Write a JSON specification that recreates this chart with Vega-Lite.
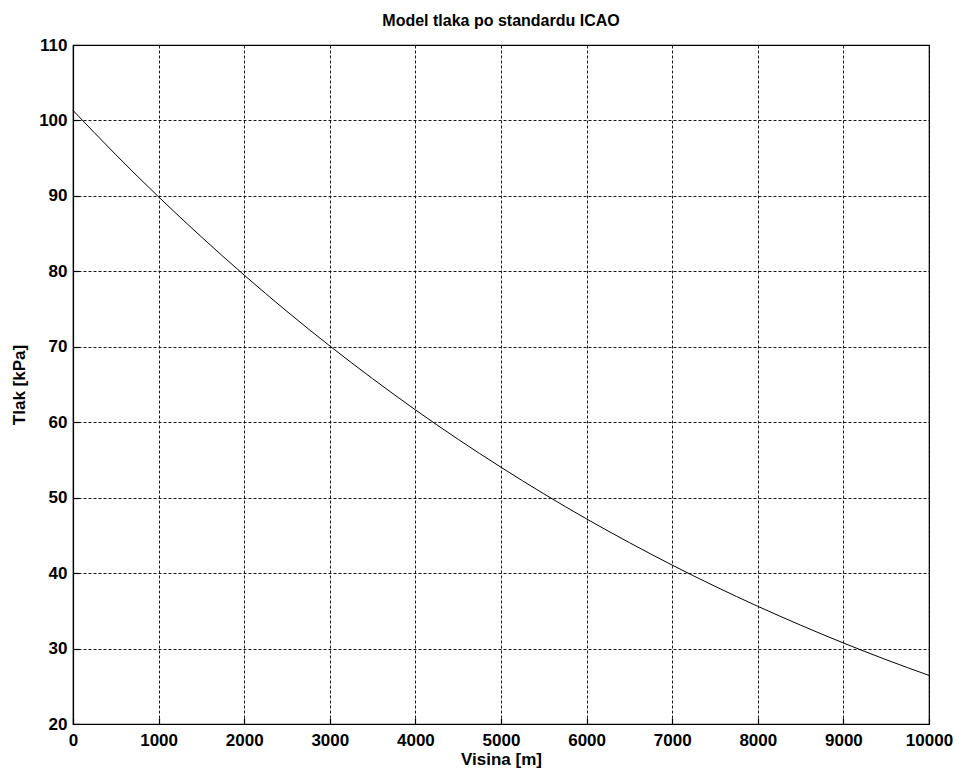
{
  "$schema": "https://vega.github.io/schema/vega-lite/v6.json",
  "autosize": "none",
  "width": 856,
  "height": 679,
  "padding": {"left": 73, "top": 45, "right": 30, "bottom": 52},
  "background": "white",
  "title": {
    "text": "Model tlaka po standardu ICAO",
    "font": "Liberation Sans",
    "fontSize": 16,
    "fontWeight": "bold",
    "color": "black",
    "offset": 7
  },
  "config": {
    "view": {"stroke": "black", "strokeWidth": 1.2},
    "axis": {
      "labelFont": "Liberation Sans",
      "labelFontSize": 17,
      "labelFontWeight": "bold",
      "labelColor": "black",
      "titleFont": "Liberation Sans",
      "titleFontSize": 17,
      "titleFontWeight": "bold",
      "titleColor": "black",
      "domainColor": "black",
      "domainWidth": 1.2,
      "tickColor": "black",
      "tickSize": -6,
      "tickWidth": 1.2,
      "grid": true,
      "gridColor": "black",
      "gridOpacity": 0.9,
      "gridDash": [3, 2],
      "gridWidth": 1
    }
  },
  "data": {
    "values": [
      {"visina": 0, "tlak": 101.33},
      {"visina": 500, "tlak": 95.46},
      {"visina": 1000, "tlak": 89.87},
      {"visina": 1500, "tlak": 84.56},
      {"visina": 2000, "tlak": 79.5},
      {"visina": 2500, "tlak": 74.68},
      {"visina": 3000, "tlak": 70.11},
      {"visina": 3500, "tlak": 65.77},
      {"visina": 4000, "tlak": 61.64},
      {"visina": 4500, "tlak": 57.73},
      {"visina": 5000, "tlak": 54.03},
      {"visina": 5500, "tlak": 50.51},
      {"visina": 6000, "tlak": 47.18},
      {"visina": 6500, "tlak": 44.04},
      {"visina": 7000, "tlak": 41.06},
      {"visina": 7500, "tlak": 38.25},
      {"visina": 8000, "tlak": 35.6},
      {"visina": 8500, "tlak": 33.1},
      {"visina": 9000, "tlak": 30.74},
      {"visina": 9500, "tlak": 28.52},
      {"visina": 10000, "tlak": 26.44}
    ]
  },
  "mark": {"type": "line", "color": "black", "strokeWidth": 1, "interpolate": "monotone"},
  "encoding": {
    "x": {
      "field": "visina",
      "type": "quantitative",
      "scale": {"domain": [0, 10000], "nice": false},
      "axis": {
        "title": "Visina [m]",
        "values": [0, 1000, 2000, 3000, 4000, 5000, 6000, 7000, 8000, 9000, 10000],
        "format": "d",
        "labelPadding": 14,
        "titlePadding": 3,
        "labelFlush": false
      }
    },
    "y": {
      "field": "tlak",
      "type": "quantitative",
      "scale": {"domain": [20, 110], "nice": false, "zero": false},
      "axis": {
        "title": "Tlak [kPa]",
        "values": [20, 30, 40, 50, 60, 70, 80, 90, 100, 110],
        "labelPadding": 12,
        "titlePadding": 10,
        "labelFlush": false
      }
    }
  }
}
